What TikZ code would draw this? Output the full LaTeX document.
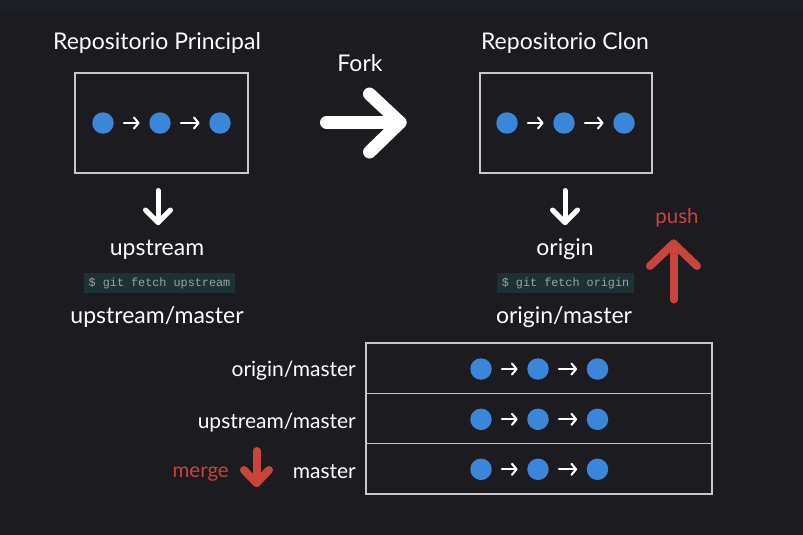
\documentclass[tikz,border=0pt]{standalone}
\usepackage{fontspec}
\setmainfont{Lato}
\setmonofont{Liberation Mono}
\usetikzlibrary{arrows.meta}
\definecolor{bgc}{RGB}{28,27,32}
\definecolor{topc}{RGB}{27,29,39}
\definecolor{dotc}{RGB}{58,135,217}
\definecolor{redc}{RGB}{201,68,58}
\definecolor{framec}{RGB}{200,200,200}
\definecolor{cmdbg}{RGB}{30,49,53}
\definecolor{cmdtx}{RGB}{150,166,166}
\begin{document}
\begin{tikzpicture}[x=1pt,y=-1pt,
  title/.style={text=white,font=\fontsize{23}{26}\selectfont,anchor=base,inner sep=0},
  lbl/.style={text=white,font=\fontsize{23}{26}\selectfont,anchor=base,inner sep=0},
  rowlbl/.style={text=white,font=\fontsize{21}{24}\selectfont,anchor=base east,inner sep=0},
  cmd/.style={fill=cmdbg,text=cmdtx,font=\ttfamily\fontsize{11.8}{13}\selectfont,inner xsep=5pt,minimum height=20pt,anchor=center},
  frame/.style={draw=framec,line width=1.3pt,inner sep=0},
  dot/.style={circle,fill=dotc,minimum size=21.5pt,inner sep=0},
  smallarr/.style={draw=white,line width=2.1pt,line cap=round,-{Straight Barb[length=4.5pt,width=11pt,line cap=round,line join=round]},shorten <=10pt,shorten >=9.5pt},
  whitearr/.style={draw=white,line width=5pt,line cap=round,line join=round},
  forkarr/.style={draw=white,line width=13pt,line cap=round,line join=round},
  redarr/.style={draw=redc,line width=8pt,line cap=round,line join=round},
  redlbl/.style={text=redc,font=\fontsize{20.5}{23}\selectfont,anchor=base,inner sep=0}
]
\fill[bgc] (0,0) rectangle (803,535);
\fill[topc] (0,0) rectangle (803,12);
\useasboundingbox (0,0) rectangle (803,535);

% titles
\node[title] (tl) at (157,50) {Repositorio Principal};
\node[title] (tr) at (565,50) {Repositorio Clon};
\node[title] (fork) at (360,71) {Fork};

% boxes
\node[frame,minimum width=173pt,minimum height=100pt] (lbox) at (161.5,123) {};
\node[frame,minimum width=172pt,minimum height=100pt] (rbox) at (566,123) {};

\node[dot] (l1) at (103,123) {};
\node[dot] (l2) at (160,123) {};
\node[dot] (l3) at (220,123) {};
\draw[smallarr] (l1) -- (l2);
\draw[smallarr] (l2) -- (l3);

\node[dot] (r1) at (507,123) {};
\node[dot] (r2) at (564,123) {};
\node[dot] (r3) at (624,123) {};
\draw[smallarr] (r1) -- (r2);
\draw[smallarr] (r2) -- (r3);

% fork arrow
\coordinate (fs) at (326.5,122.5);
\coordinate (ft) at (400,122.5);
\draw[forkarr] (fs) -- (ft);
\draw[forkarr] (369.5,94) -- (ft) -- (369.5,152);

% left column
\coordinate (la1) at (158,190.5);
\coordinate (la2) at (158,222.5);
\draw[whitearr] (la1) -- (la2);
\draw[whitearr] (145.5,210) -- (la2) -- (170.5,210);
\node[lbl] (up) at (157,255) {upstream};
\node[cmd] (cmdl) at (159.5,283) {\$ git fetch upstream};
\node[lbl] (upm) at (157,323) {upstream/master};

% right column
\coordinate (ra1) at (565,190.5);
\coordinate (ra2) at (565,222.5);
\draw[whitearr] (ra1) -- (ra2);
\draw[whitearr] (552.5,210) -- (ra2) -- (577.5,210);
\node[lbl] (orig) at (565,255) {origin};
\node[cmd] (cmdr) at (565.5,283) {\$ git fetch origin};
\node[lbl] (origm) at (564,323) {origin/master};

% push
\node[redlbl] (push) at (677,223) {push};
\coordinate (pb) at (673.5,299.5);
\coordinate (pt) at (673.5,243.5);
\draw[redarr] (pb) -- (pt);
\draw[redarr] (650,266) -- (pt) -- (697,266);

% table
\node[frame,minimum width=346pt,minimum height=50.3pt] (row1) at (539,368.2) {};
\node[frame,minimum width=346pt,minimum height=50.3pt] (row2) at (539,418.5) {};
\node[frame,minimum width=346pt,minimum height=50.3pt] (row3) at (539,468.8) {};

\node[rowlbl] (lr1) at (356,376) {origin/master};
\node[rowlbl] (lr2) at (356,428) {upstream/master};
\node[rowlbl] (lr3) at (356,478) {master};

\foreach \r/\y in {1/369,2/419.3,3/469.3}{
  \node[dot] (d\r a) at (481,\y) {};
  \node[dot] (d\r b) at (538,\y) {};
  \node[dot] (d\r c) at (597.5,\y) {};
  \draw[smallarr] (d\r a) -- (d\r b);
  \draw[smallarr] (d\r b) -- (d\r c);
}

% merge
\node[redlbl,anchor=base east] (merge) at (229,477) {merge};
\coordinate (mt) at (256.5,451);
\coordinate (mb) at (256.5,483);
\draw[redarr] (mt) -- (mb);
\draw[redarr] (244,470) -- (mb) -- (269,470);
\end{tikzpicture}
\end{document}
